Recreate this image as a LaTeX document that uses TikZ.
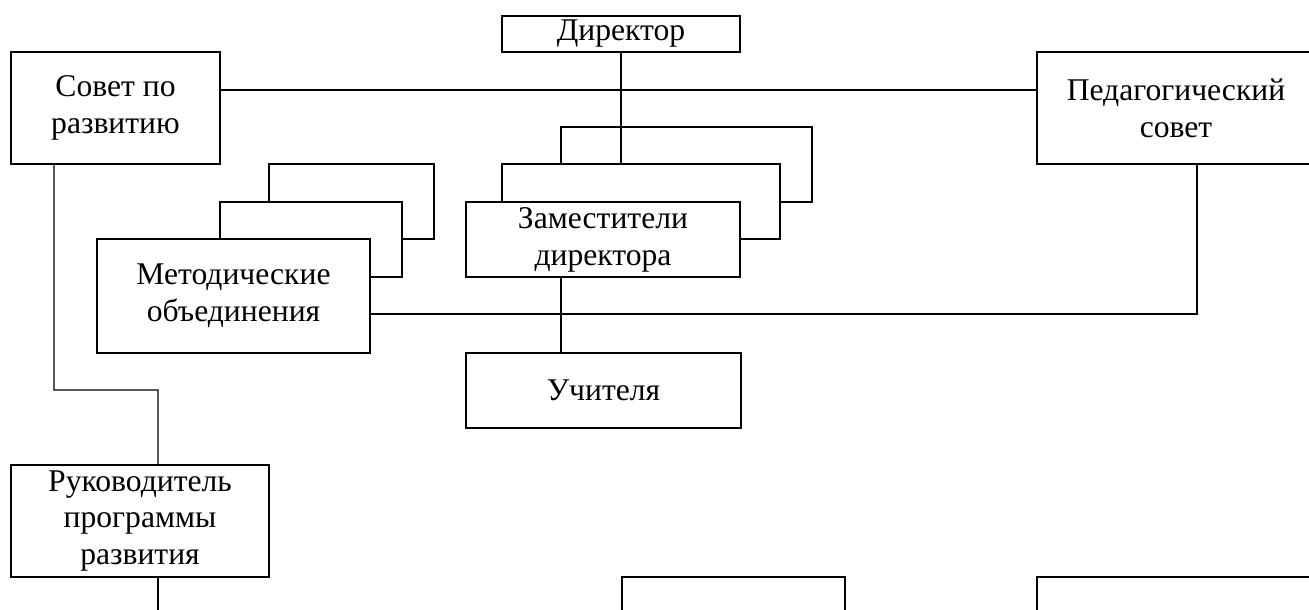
\documentclass[tikz,border=0pt]{standalone}
\usepackage{fontspec}
\setmainfont{Liberation Serif}
\usetikzlibrary{calc}
\begin{document}
\begin{tikzpicture}[x=0.02cm,y=-0.02cm,
  unit/.style={draw,fill=white,line width=0.65pt,inner sep=0pt,align=center,font=\fontsize{18}{21}\selectfont},
  link/.style={line width=0.65pt},
  boldlink/.style={line width=1.5pt}]
\useasboundingbox (0,0) rectangle (1309,609);
% top row
\node[unit,minimum width=4.76cm,minimum height=0.72cm] (dir) at (621,34) {Директор};
\node[unit,minimum width=4.18cm,minimum height=2.24cm] (sovet) at (115.5,108) {Совет по\\развитию};
\node[unit,minimum width=5.56cm,minimum height=2.24cm] (pedsovet) at (1176,108) {Педагогический\\совет};
% stacked boxes
\node[unit,minimum width=5.02cm,minimum height=1.5cm] (zamback) at (686.5,164.5) {};
\node[unit,minimum width=5.56cm,minimum height=1.5cm] (zammid) at (641,201.5) {};
\node[unit,minimum width=5.48cm,minimum height=1.5cm] (zam) at (603,239.5) {Заместители\\директора};
\node[unit,minimum width=3.3cm,minimum height=1.5cm] (metodback) at (351.5,201.5) {};
\node[unit,minimum width=3.64cm,minimum height=1.5cm] (metodmid) at (311,239.5) {};
\node[unit,minimum width=5.46cm,minimum height=2.28cm] (metod) at (233.5,296) {Методические\\объединения};
% lower boxes
\node[unit,minimum width=5.5cm,minimum height=1.5cm] (uch) at (603.5,390.5) {Учителя};
\node[unit,minimum width=5.16cm,minimum height=2.24cm] (ruk) at (140,521) {Руководитель\\программы\\развития};
\node[unit,minimum width=4.46cm,minimum height=1.8cm] (low1) at (733.5,622) {};
\node[unit,minimum width=5.56cm,minimum height=1.8cm] (low2) at (1176,622) {};
% connectors
\coordinate (hline) at (0,90);
\coordinate (mline) at (679,314);
\coordinate (rbend) at (158,390);
\draw[link] (sovet.east |- hline) -- (pedsovet.west |- hline);
\draw[link] (dir.south) -- (dir.south |- zammid.north);
\draw[link] (metod.east |- mline) -- (mline);
\draw[boldlink] (mline) -| ([xshift=0.42cm]pedsovet.south);
\draw[link] ([xshift=-0.84cm]zam.south) -- ([xshift=-0.84cm]zam.south |- uch.north);
\draw[link] ([xshift=-1.23cm]sovet.south) |- (rbend) -- ([xshift=0.36cm]ruk.north);
\draw[link] ([xshift=0.36cm]ruk.south) -- ++(0,40);
\end{tikzpicture}
\end{document}
